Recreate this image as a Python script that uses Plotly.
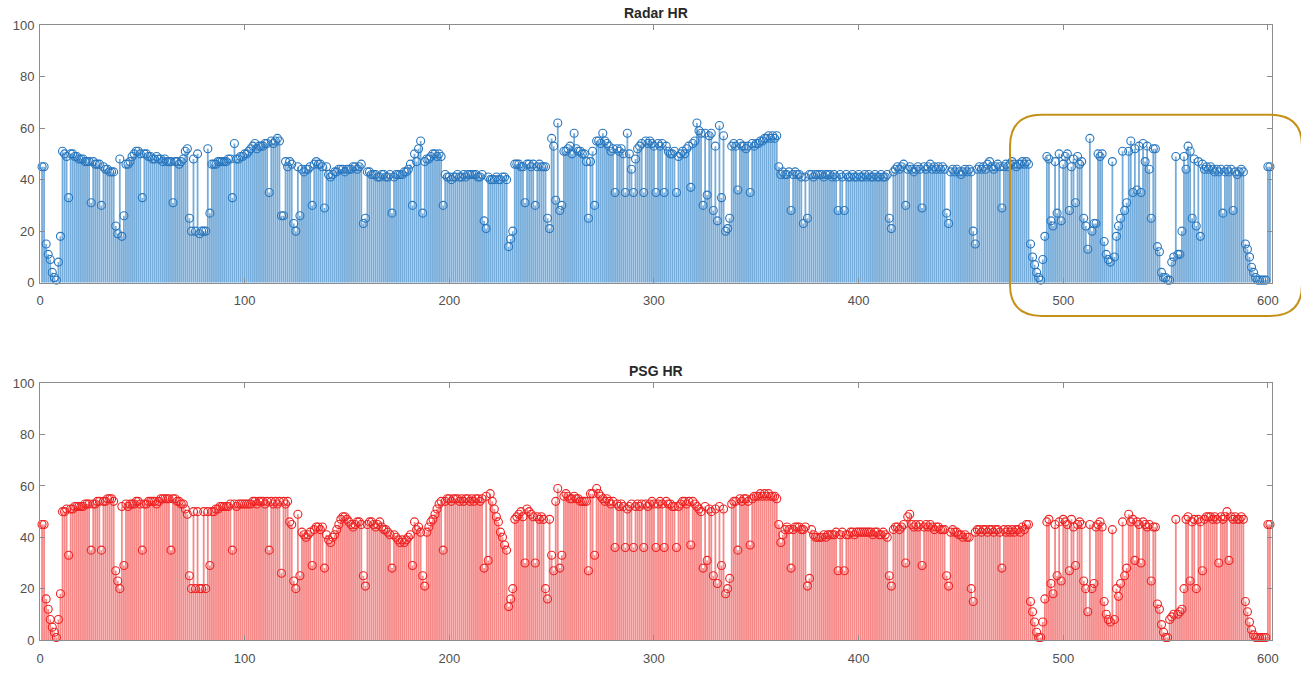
import plotly.graph_objects as go

# ---------------- data (sample index 1..601) ----------------
radar_hr = [
    45, 45, 15, 11, 9, 4, 2, 1, 8, 18,
    51, 50, 49, 33, 50, 50, 49, 49, 48, 48,
    48, 47, 47, 47, 31, 47, 46, 46, 46, 30,
    45, 44, 44, 43, 43, 43, 22, 19, 48, 18,
    26, 46, 46, 47, 49, 50, 51, 51, 50, 33,
    50, 50, 49, 49, 48, 48, 49, 48, 48, 47,
    48, 47, 47, 47, 31, 47, 47, 46, 47, 48,
    51, 52, 25, 20, 48, 20, 50, 19, 20, 20,
    20, 52, 27, 46, 46, 46, 47, 47, 47, 47,
    47, 48, 48, 33, 54, 48, 48, 49, 49, 50,
    50, 51, 52, 53, 54, 52, 53, 53, 53, 54,
    54, 35, 55, 54, 55, 56, 55, 26, 26, 47,
    45, 47, 46, 23, 20, 45, 26, 44, 43, 44,
    44, 45, 30, 46, 47, 46, 46, 45, 29, 45,
    42, 41, 42, 43, 43, 44, 44, 44, 43, 44,
    44, 44, 45, 45, 44, 45, 46, 23, 25, 43,
    43, 42, 42, 42, 41, 41, 42, 42, 41, 41,
    42, 27, 41, 42, 42, 42, 42, 43, 43, 44,
    46, 30, 50, 47, 52, 55, 27, 47, 48, 48,
    49, 50, 50, 49, 50, 49, 30, 42, 41, 41,
    40, 41, 41, 42, 41, 41, 42, 41, 42, 42,
    42, 42, 42, 41, 41, 42, 24, 21, 41, 40,
    40, 40, 41, 40, 40, 41, 41, 40, 14, 17,
    20, 46, 46, 46, 45, 45, 31, 46, 46, 45,
    46, 30, 45, 46, 45, 45, 45, 25, 21, 56,
    53, 32, 62, 28, 30, 51, 51, 52, 53, 50,
    58, 52, 51, 51, 50, 50, 47, 25, 47, 51,
    30, 55, 55, 54, 58, 55, 54, 53, 51, 52,
    35, 52, 51, 52, 50, 35, 58, 50, 44, 35,
    48, 52, 53, 54, 35, 55, 54, 55, 54, 53,
    35, 54, 53, 54, 35, 53, 51, 50, 50, 51,
    35, 49, 50, 51, 50, 52, 53, 37, 54, 55,
    62, 59, 58, 30, 58, 34, 57, 58, 28, 53,
    24, 61, 33, 57, 20, 21, 25, 53, 54, 53,
    36, 54, 53, 53, 52, 53, 35, 54, 53, 54,
    54, 55, 55, 56, 56, 57, 56, 57, 56, 57,
    45, 42, 43, 42, 42, 43, 28, 42, 43, 42,
    42, 41, 23, 41, 25, 42, 42, 41, 42, 42,
    42, 42, 41, 42, 42, 42, 41, 42, 41, 28,
    42, 41, 28, 42, 41, 41, 42, 41, 41, 42,
    41, 41, 42, 41, 42, 41, 41, 42, 41, 41,
    42, 41, 41, 42, 25, 21, 43, 44, 45, 44,
    45, 46, 30, 44, 45, 44, 43, 44, 45, 44,
    29, 45, 44, 45, 46, 44, 45, 44, 45, 44,
    45, 44, 27, 23, 43, 44, 43, 44, 43, 42,
    43, 44, 43, 44, 43, 20, 15, 44, 45, 44,
    45, 44, 46, 47, 45, 44, 45, 46, 45, 29,
    45, 46, 45, 46, 47, 46, 45, 46, 46, 47,
    46, 47, 46, 15, 10, 7, 4, 2, 1, 9,
    18, 49, 48, 24, 22, 47, 27, 50, 24, 46,
    49, 50, 28, 45, 48, 31, 49, 46, 47, 25,
    22, 13, 56, 20, 23, 23, 50, 49, 50, 16,
    11, 9, 8, 47, 10, 18, 22, 25, 51, 28,
    31, 51, 55, 35, 52, 36, 53, 35, 54, 47,
    53, 44, 25, 52, 52, 14, 12, 4, 2, 2,
    1, 1, 8, 10, 49, 11, 11, 20, 49, 44,
    53, 51, 25, 48, 22, 47, 18, 46, 44, 45,
    44, 45, 44, 43, 44, 43, 44, 27, 43, 44,
    43, 44, 28, 43, 42, 43, 44, 43, 15, 13,
    10, 6, 4, 2, 1, 1, 1, 1, 1, 45, 45,
]

psg_hr = [
    45, 45, 16, 12, 8, 5, 3, 1, 8, 18,
    50, 50, 51, 33, 51, 51, 52, 52, 52, 52,
    52, 53, 53, 53, 35, 53, 53, 54, 54, 35,
    54, 54, 55, 55, 55, 54, 27, 23, 20, 52,
    29, 53, 52, 53, 53, 53, 54, 54, 53, 35,
    53, 53, 54, 54, 54, 54, 53, 54, 55, 55,
    55, 55, 55, 35, 55, 55, 54, 54, 53, 53,
    51, 49, 25, 20, 50, 20, 50, 20, 20, 50,
    20, 50, 29, 50, 50, 51, 51, 52, 52, 52,
    52, 52, 53, 35, 53, 52, 53, 53, 53, 53,
    53, 53, 53, 54, 54, 53, 54, 54, 54, 53,
    54, 35, 54, 53, 54, 53, 54, 26, 54, 53,
    54, 46, 45, 23, 20, 49, 25, 42, 41, 40,
    41, 42, 29, 43, 44, 44, 43, 44, 28, 41,
    39, 38, 40, 41, 43, 45, 47, 48, 48, 47,
    46, 45, 44, 45, 46, 46, 45, 25, 21, 45,
    46, 46, 45, 44, 45, 46, 44, 43, 43, 42,
    41, 28, 41, 40, 39, 38, 39, 38, 39, 40,
    41, 29, 46, 43, 44, 42, 25, 21, 42, 44,
    46, 47, 49, 51, 53, 54, 35, 54, 55, 55,
    54, 55, 55, 55, 54, 55, 54, 55, 55, 54,
    55, 54, 55, 55, 54, 55, 28, 56, 31, 57,
    54, 51, 48, 46, 42, 40, 37, 35, 13, 16,
    20, 47, 48, 49, 50, 48, 30, 51, 50, 49,
    48, 30, 48, 47, 48, 47, 20, 16, 47, 33,
    27, 54, 59, 28, 33, 56, 57, 56, 55, 55,
    56, 55, 55, 54, 54, 54, 54, 27, 57, 57,
    33, 59, 57, 56, 55, 54, 55, 54, 53, 54,
    36, 53, 52, 53, 52, 36, 51, 52, 53, 36,
    52, 53, 52, 53, 36, 53, 52, 53, 54, 53,
    36, 53, 54, 53, 36, 54, 53, 53, 52, 52,
    36, 52, 53, 54, 54, 53, 54, 37, 54, 53,
    52, 51, 50, 28, 52, 31, 51, 50, 25, 51,
    22, 52, 29, 51, 18, 20, 24, 53, 54, 54,
    35, 55, 54, 55, 55, 54, 37, 55, 56, 56,
    56, 57, 56, 57, 56, 57, 56, 56, 56, 55,
    45, 38, 41, 43, 44, 43, 28, 43, 44, 44,
    44, 43, 43, 44, 21, 24, 43, 41, 40, 40,
    40, 40, 41, 40, 41, 41, 41, 41, 42, 27,
    41, 42, 27, 41, 41, 42, 42, 41, 42, 42,
    42, 42, 42, 42, 42, 42, 41, 42, 42, 41,
    41, 42, 41, 40, 25, 21, 43, 44, 44, 43,
    44, 45, 30, 48, 49, 45, 44, 45, 44, 45,
    29, 44, 45, 44, 45, 44, 43, 44, 44, 43,
    43, 43, 25, 21, 42, 43, 42, 42, 41, 41,
    40, 41, 40, 40, 20, 15, 42, 43, 43, 42,
    43, 43, 42, 43, 43, 42, 43, 43, 42, 28,
    43, 42, 43, 42, 43, 42, 43, 43, 42, 44,
    43, 45, 45, 15, 11, 7, 3, 1, 1, 7,
    16, 46, 47, 22, 18, 45, 25, 46, 23, 47,
    46, 45, 27, 47, 44, 29, 45, 46, 45, 23,
    20, 11, 45, 20, 22, 44, 45, 46, 44, 15,
    10, 8, 7, 43, 8, 20, 17, 22, 46, 25,
    28, 49, 46, 47, 31, 46, 45, 30, 46, 45,
    44, 45, 23, 44, 44, 14, 12, 6, 3, 1,
    1, 8, 9, 10, 47, 10, 11, 12, 20, 47,
    48, 23, 46, 47, 20, 47, 46, 27, 47, 48,
    48, 48, 47, 48, 47, 30, 48, 47, 48, 50,
    31, 48, 47, 48, 47, 47, 48, 47, 15, 11,
    7, 4, 2, 1, 1, 1, 1, 1, 1, 45, 45,
]

x_ticks = [0, 100, 200, 300, 400, 500, 600]
y_ticks = [0, 20, 40, 60, 80, 100]
titles = ["Radar HR", "PSG HR"]

# ---------------- figure ----------------
W, H = 1301, 678
ML, MR, MT, MB = 40, 29, 25, 23
plot_w = W - ML - MR
plot_h = H - MT - MB
top_dom = [(655 - 289) / plot_h, 1.0]
bot_dom = [0.0, (655 - 392) / plot_h]


def stems(vals):
    xs, ys = [], []
    for i, v in enumerate(vals, start=1):
        xs += [i, i, None]
        ys += [0, v, None]
    return xs, ys


fig = go.Figure()

series = [
    (radar_hr, "x", "y", "rgb(118,172,218)", "rgb(40,118,190)"),
    (psg_hr, "x2", "y2", "rgb(247,136,136)", "rgb(238,34,34)"),
]
for vals, xa, ya, stem_c, mark_c in series:
    sx, sy = stems(vals)
    fig.add_trace(go.Scatter(x=sx, y=sy, mode="lines", xaxis=xa, yaxis=ya,
                             line=dict(color=stem_c, width=1.8),
                             hoverinfo="skip", showlegend=False))
    idx = list(range(1, len(vals) + 1))
    fig.add_trace(go.Scatter(x=idx, y=vals, mode="markers", xaxis=xa, yaxis=ya,
                             marker=dict(symbol="circle-open", size=8,
                                         color=mark_c, line=dict(width=1.1)),
                             showlegend=False, cliponaxis=False))

n = len(radar_hr)
font_family = "Liberation Sans, Arial, sans-serif"
axis_common = dict(
    showgrid=False, zeroline=False, showline=True, mirror="ticks",
    linecolor="rgb(140,140,140)", linewidth=1,
    ticks="inside", ticklen=5, tickcolor="rgb(140,140,140)",
    tickfont=dict(family=font_family, size=13, color="rgb(80,80,80)"),
)
fig.update_layout(
    width=W, height=H,
    margin=dict(l=ML, r=MR, t=MT, b=MB, pad=0),
    paper_bgcolor="white", plot_bgcolor="white",
    xaxis=dict(domain=[0, 1], anchor="y", range=[0, n + 1],
               tickvals=x_ticks, ticklabelstandoff=6, **axis_common),
    yaxis=dict(domain=top_dom, anchor="x", range=[0, 100],
               tickvals=y_ticks, ticklabelstandoff=2, **axis_common),
    xaxis2=dict(domain=[0, 1], anchor="y2", range=[0, n + 1],
                tickvals=x_ticks, ticklabelstandoff=6, **axis_common),
    yaxis2=dict(domain=bot_dom, anchor="x2", range=[0, 100],
                tickvals=y_ticks, ticklabelstandoff=2, **axis_common),
)

for title, dom in zip(titles, [top_dom, bot_dom]):
    fig.add_annotation(text="<b>" + title + "</b>", xref="paper", yref="paper",
                       x=0.5, y=dom[1], yanchor="bottom", xanchor="center",
                       yshift=2, showarrow=False,
                       font=dict(family=font_family, size=14,
                                 color="rgb(40,40,40)"))


# highlight box (rounded rectangle) around the last section of the radar panel
def px_to_paper_x(px):
    return (px - ML) / plot_w


def py_to_paper_y(py):
    return (H - MB - py) / plot_h


x0, x1 = px_to_paper_x(1010), px_to_paper_x(1302)
y1, y0 = py_to_paper_y(117), py_to_paper_y(323)
rx, ry = 32 / plot_w, 32 / plot_h
path = (f"M {x0+rx},{y1} L {x1-rx},{y1} Q {x1},{y1} {x1},{y1-ry} "
        f"L {x1},{y0+ry} Q {x1},{y0} {x1-rx},{y0} L {x0+rx},{y0} "
        f"Q {x0},{y0} {x0},{y0+ry} L {x0},{y1-ry} Q {x0},{y1} {x0+rx},{y1} Z")
fig.add_shape(type="path", path=path, xref="paper", yref="paper",
              line=dict(color="rgb(196,146,24)", width=2))

# remove the default page margin so the figure fills the window exactly
fig.write_html("out.html",
               config={"displayModeBar": False},
               post_script="document.body.style.margin='0px';"
                           "document.body.style.overflow='hidden';")
